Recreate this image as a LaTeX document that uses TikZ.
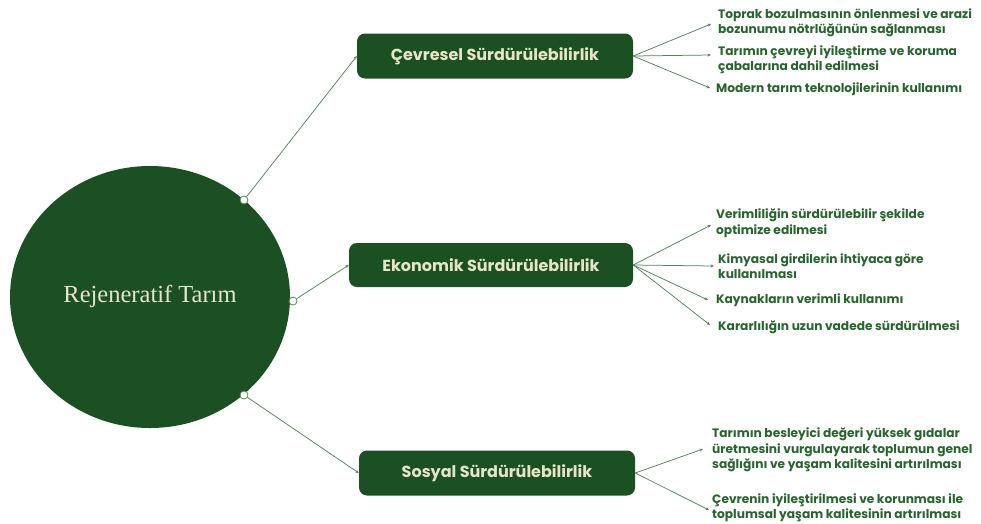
\documentclass[tikz,border=0pt]{standalone}
\usepackage{fontspec}
\setmainfont{Poppins}
\newfontfamily\serifx{Liberation Serif}
\usetikzlibrary{arrows.meta,shapes.geometric}
\definecolor{dgreen}{RGB}{27,81,34}
\definecolor{tgreen}{RGB}{40,100,45}
\definecolor{lgreen}{RGB}{85,130,92}
\definecolor{cream}{RGB}{232,228,200}
\tikzset{
  titlebox/.style={draw=none, fill=dgreen, rounded corners=8pt, text=cream, font=\fontsize{16}{18}\selectfont\bfseries, minimum height=45pt, inner sep=0pt},
  item/.style={anchor=west, align=left, text=tgreen, font=\fontsize{12.2}{15.5}\selectfont\bfseries, inner sep=0pt},
  dot/.style={circle, draw=lgreen, fill=white, line width=0.8pt, minimum size=8pt, inner sep=0pt},
  link/.style={draw=lgreen, line width=0.75pt, -{Stealth[length=3.5pt,width=3pt]}},
}
\begin{document}
\begin{tikzpicture}[x=1pt,y=-1pt]
\useasboundingbox (0,0) rectangle (981,523);
% central circle
\node[ellipse, fill=dgreen, minimum width=280pt, minimum height=262pt, inner sep=0pt] (hub) at (150,297) {};
\node[text=cream, font=\serifx\fontsize{24.5}{26}\selectfont] (hubtext) at (150,296) {Rejeneratif Tarım};
% boxes
\node[titlebox, minimum width=276pt] (b1) at (495,56) {Çevresel Sürdürülebilirlik};
\node[titlebox, minimum width=284pt, minimum height=44pt] (b2) at (491,265) {Ekonomik Sürdürülebilirlik};
\node[titlebox, minimum width=276pt] (b3) at (497,473) {Sosyal Sürdürülebilirlik};
% dots
\node[dot] (d1) at (244,200) {};
\node[dot] (d2) at (293,301) {};
\node[dot] (d3) at (244,395) {};
\draw[link] (d1) -- (b1.west);
\draw[link] (d2) -- (b2.west);
\draw[link] (d3) -- (b3.west);
% items box 1
\coordinate (t11) at (711,24);
\coordinate (t12) at (711,55);
\coordinate (t13) at (710,88);
\node[item] (i11) at (718,23) {Toprak bozulmasının önlenmesi ve arazi\\bozunumu nötrlüğünün sağlanması};
\node[item] (i12) at (718,60) {Tarımın çevreyi iyileştirme ve koruma\\çabalarına dahil edilmesi};
\node[item] (i13) at (716,89) {Modern tarım teknolojilerinin kullanımı};
\foreach \t in {t11,t12,t13} \draw[link] (b1.east) -- (\t);
% items box 2
\coordinate (t21) at (711,225);
\coordinate (t22) at (714,266);
\coordinate (t23) at (708,300);
\coordinate (t24) at (710,325);
\node[item] (i21) at (716,223) {Verimliliğin sürdürülebilir şekilde\\optimize edilmesi};
\node[item] (i22) at (718,266) {Kimyasal girdilerin ihtiyaca göre\\kullanılması};
\node[item] (i23) at (716,300) {Kaynakların verimli kullanımı};
\node[item] (i24) at (718,327) {Kararlılığın uzun vadede sürdürülmesi};
\foreach \t in {t21,t22,t23,t24} \draw[link] (b2.east) -- (\t);
% items box 3
\coordinate (t31) at (703,449);
\coordinate (t32) at (709,510);
\node[item] (i31) at (712,450) {Tarımın besleyici değeri yüksek gıdalar\\üretmesini vurgulayarak toplumun genel\\sağlığını ve yaşam kalitesini artırılması};
\node[item] (i32) at (712,508) {Çevrenin iyileştirilmesi ve korunması ile\\toplumsal yaşam kalitesinin artırılması};
\foreach \t in {t31,t32} \draw[link] (b3.east) -- (\t);
\end{tikzpicture}
\end{document}
